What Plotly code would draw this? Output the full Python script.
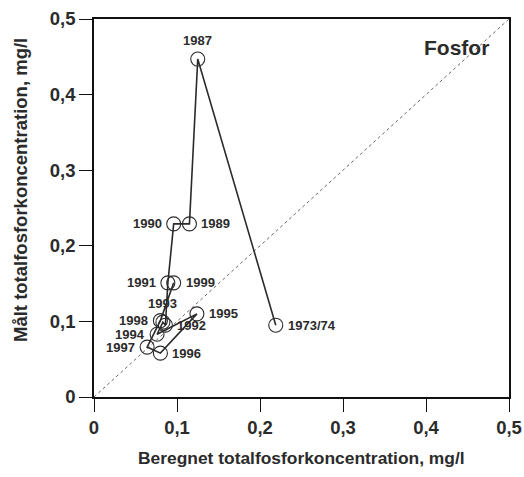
import plotly.graph_objects as go

years = ["1973/74", "1987", "1989", "1990", "1991", "1992", "1993", "1994",
         "1995", "1996", "1997", "1998", "1999"]
beregnet = [0.219, 0.125, 0.115, 0.096, 0.089, 0.086, 0.083, 0.076,
            0.124, 0.080, 0.064, 0.080, 0.096]
maalt = [0.095, 0.447, 0.229, 0.229, 0.151, 0.095, 0.099, 0.083,
         0.110, 0.058, 0.066, 0.101, 0.151]
label_side = ["r", "t", "r", "l", "l", "r", "t", "l", "r", "r", "l", "l", "r"]
ticks = [0, 0.1, 0.2, 0.3, 0.4, 0.5]
tick_text = ["0", "0,1", "0,2", "0,3", "0,4", "0,5"]

ink = "#2b2b2b"
font = "Liberation Sans, Arial, sans-serif"

fig = go.Figure()
fig.add_trace(go.Scatter(x=[0, 0.5], y=[0, 0.5], mode="lines",
                         line=dict(color="#666", width=1, dash="dot"),
                         hoverinfo="skip"))
fig.add_trace(go.Scatter(x=beregnet, y=maalt, mode="lines+markers",
                         line=dict(color=ink, width=1.6),
                         marker=dict(symbol="circle-open", size=14,
                                     color=ink, line=dict(width=1.1, color=ink))))

for xv, yv, lab, side in zip(beregnet, maalt, years, label_side):
    if side == "r":
        kw = dict(xanchor="left", yanchor="middle", xshift=10, yshift=0)
    elif side == "l":
        kw = dict(xanchor="right", yanchor="middle", xshift=-10, yshift=0)
    else:
        kw = dict(xanchor="center", yanchor="bottom", xshift=0, yshift=9)
    fig.add_annotation(x=xv, y=yv, text=f"<b>{lab}</b>", showarrow=False,
                       font=dict(family=font, size=13, color=ink), **kw)

fig.add_annotation(x=0.437, y=0.462, text="<b>Fosfor</b>", showarrow=False,
                   font=dict(family=font, size=21, color=ink))

fig.add_annotation(xref="paper", yref="paper", x=0.5, y=0, yshift=-61,
                   text="<b>Beregnet totalfosforkoncentration, mg/l</b>",
                   showarrow=False, xanchor="center", yanchor="middle",
                   font=dict(family=font, size=17.4, color=ink))
fig.add_annotation(xref="paper", yref="paper", x=0, y=0.5, xshift=-74, yshift=18,
                   text="<b>Målt totalfosforkoncentration, mg/l</b>",
                   showarrow=False, textangle=-90, xanchor="center", yanchor="middle",
                   font=dict(family=font, size=18.5, color=ink))

axis_common = dict(range=[0, 0.5], tickvals=ticks, ticktext=tick_text,
                   showgrid=False, zeroline=False, showline=True,
                   linecolor="#111", linewidth=1.6, mirror=True,
                   ticks="outside", ticklen=13, tickwidth=1.4, tickcolor="#111",
                   automargin=False,
                   tickfont=dict(family=font, size=18.5, color=ink, weight="bold"))

fig.update_xaxes(**axis_common)
fig.update_yaxes(**axis_common)

fig.update_layout(width=524, height=477, showlegend=False,
                  margin=dict(l=94, r=15, t=19, b=80, autoexpand=False),
                  paper_bgcolor="white", plot_bgcolor="white")

fig.write_html("out.html")
